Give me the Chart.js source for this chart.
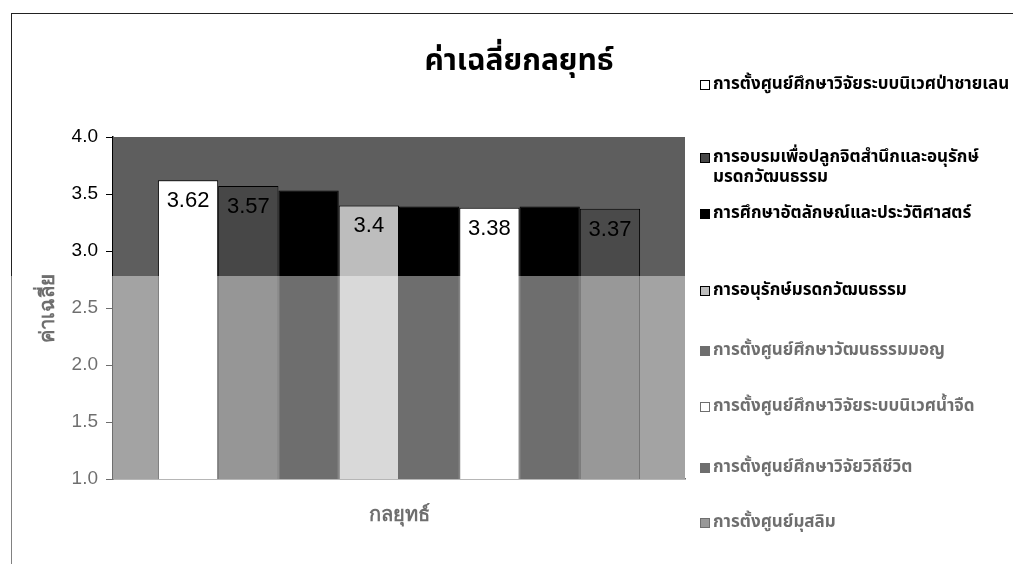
<!DOCTYPE html>
<html>
<head>
<meta charset="utf-8">
<script src="https://cdn.jsdelivr.net/npm/chart.js@4.4.0/dist/chart.umd.min.js"></script>
<style>
    html, body { margin: 0; padding: 0; background: #fff; }
    body { width: 1013px; height: 564px; position: relative; overflow: hidden;
           font-family: "Noto Sans Thai", "Loma", "Garuda", "Tahoma", "DejaVu Sans", sans-serif; }
    #frame { position: absolute; left: 11px; top: 13px; width: 1010px; height: 560px;
             border-left: 1.5px solid #222; border-top: 1.5px solid #222; }
    #chartBox { position: absolute; left: 0; top: 0; width: 1013px; height: 564px; }
    #title { position: absolute; left: 319px; width: 400px; top: 38px; text-align: center;
             font-size: 30px; font-weight: bold; color: #000; }
    #legend { position: absolute; left: 700px; top: 0; }
    .legend-item { position: absolute; left: 0; white-space: nowrap; font-size: 17px;
                   font-weight: bold; line-height: 20px; color: #000; }
    .legend-item .box { position: absolute; left: 0; top: 6px; width: 8px; height: 8px;
                        border: 1px solid #000; }
    .legend-item .txt { margin-left: 13px; display: block; }
    .wash { position: absolute; background: rgba(255, 255, 255, 0.43); pointer-events: none; }
</style>
</head>
<body>
<div id="frame"></div>
<div id="chartBox"><canvas id="chart"></canvas></div>
<div id="title">ค่าเฉลี่ยกลยุทธ์</div>
<div id="legend"></div>
<div class="wash" style="left:0;top:276px;width:690px;height:288px;"></div>
<div class="wash" style="left:690px;top:318px;width:323px;height:246px;"></div>

<script>
// data
const chartTitle = 'ค่าเฉลี่ยกลยุทธ์';
const xAxisTitle = 'กลยุทธ์';
const yAxisTitle = 'ค่าเฉลี่ย';
const categories = [''];
const strategyNames = [
    'การตั้งศูนย์ศึกษาวิจัยระบบนิเวศป่าชายเลน',
    'การอบรมเพื่อปลูกจิตสำนึกและอนุรักษ์ มรดกวัฒนธรรม',
    'การศึกษาอัตลักษณ์และประวัติศาสตร์',
    'การอนุรักษ์มรดกวัฒนธรรม',
    'การตั้งศูนย์ศึกษาวัฒนธรรมมอญ',
    'การตั้งศูนย์ศึกษาวิจัยระบบนิเวศน้ำจืด',
    'การตั้งศูนย์ศึกษาวิจัยวิถีชีวิต',
    'การตั้งศูนย์มุสลิม'
];
const strategyMeans = [3.62, 3.57, 3.53, 3.40, 3.39, 3.38, 3.39, 3.37];
const barColors = ['#ffffff', '#474747', '#000000', '#bdbdbd', '#000000', '#ffffff', '#000000', '#4a4a4a'];
const yMin = 1.0;
const yMax = 4.0;
const yStep = 0.5;

// plot area fill (the scanned grey backdrop)
const plotBackground = {
    id: 'plotBackground',
    beforeDatasetsDraw(chart) {
        const { ctx, chartArea: a } = chart;
        ctx.save();
        ctx.fillStyle = '#5e5e5e';
        ctx.fillRect(a.left, a.top, a.right - a.left, a.bottom - a.top);
        ctx.restore();
    }
};

// values written inside the top of each bar
const barValues = {
    id: 'barValues',
    afterDatasetsDraw(chart) {
        const { ctx } = chart;
        ctx.save();
        ctx.font = '22px "Liberation Sans", Arial, sans-serif';
        ctx.fillStyle = '#000';
        ctx.textAlign = 'center';
        ctx.textBaseline = 'middle';
        chart.data.datasets.forEach((ds, i) => {
            const bar = chart.getDatasetMeta(i).data[0];
            ctx.fillText(String(ds.data[0]), bar.x, bar.y + 21);
        });
        ctx.restore();
    }
};

const ctx = document.getElementById('chart').getContext('2d');
new Chart(ctx, {
    type: 'bar',
    data: {
        labels: categories,
        datasets: strategyNames.map((name, i) => ({
            label: name,
            data: [strategyMeans[i]],
            backgroundColor: barColors[i],
            borderColor: '#000',
            borderWidth: 1,
            barPercentage: 1,
            categoryPercentage: 0.843
        }))
    },
    options: {
        responsive: true,
        maintainAspectRatio: false,
        animation: false,
        layout: {
            padding: { top: 137, right: 328, bottom: 0, left: 0 }
        },
        plugins: {
            legend: { display: false },
            title: { display: false },
            tooltip: { enabled: false }
        },
        scales: {
            x: {
                afterFit: (s) => { s.height = 85; },
                grid: { display: false },
                ticks: { display: false },
                border: { color: '#000', width: 1.5 },
                title: {
                    display: true,
                    text: xAxisTitle,
                    color: '#000',
                    font: { size: 20, weight: 'bold' },
                    padding: { top: 0, bottom: 37 }
                }
            },
            y: {
                min: yMin,
                max: yMax,
                afterFit: (s) => { s.width = 113; },
                grid: { drawOnChartArea: false, drawTicks: true, tickLength: 7, color: '#000' },
                border: { color: '#000', width: 1.5 },
                ticks: {
                    stepSize: yStep,
                    padding: 8,
                    color: '#000',
                    font: { family: '"Liberation Sans", Arial, sans-serif', size: 19 },
                    callback: (v) => Number(v).toFixed(1)
                },
                title: {
                    display: true,
                    text: yAxisTitle,
                    color: '#000',
                    font: { size: 20, weight: 'bold' },
                    padding: { top: 36, bottom: 0 }
                }
            }
        }
    },
    plugins: [plotBackground, barValues]
});

// legend on the right, built from the same arrays
const legendTops = [74, 147, 203, 280, 340, 396, 457, 512];
const legendEl = document.getElementById('legend');
strategyNames.forEach((name, i) => {
    const item = document.createElement('div');
    item.className = 'legend-item';
    item.style.top = legendTops[i] + 'px';
    const box = document.createElement('span');
    box.className = 'box';
    box.style.background = barColors[i];
    item.appendChild(box);
    name.split(' ').forEach(line => {
        const t = document.createElement('span');
        t.className = 'txt';
        t.textContent = line;
        item.appendChild(t);
    });
    legendEl.appendChild(item);
});
</script>
</body>
</html>
